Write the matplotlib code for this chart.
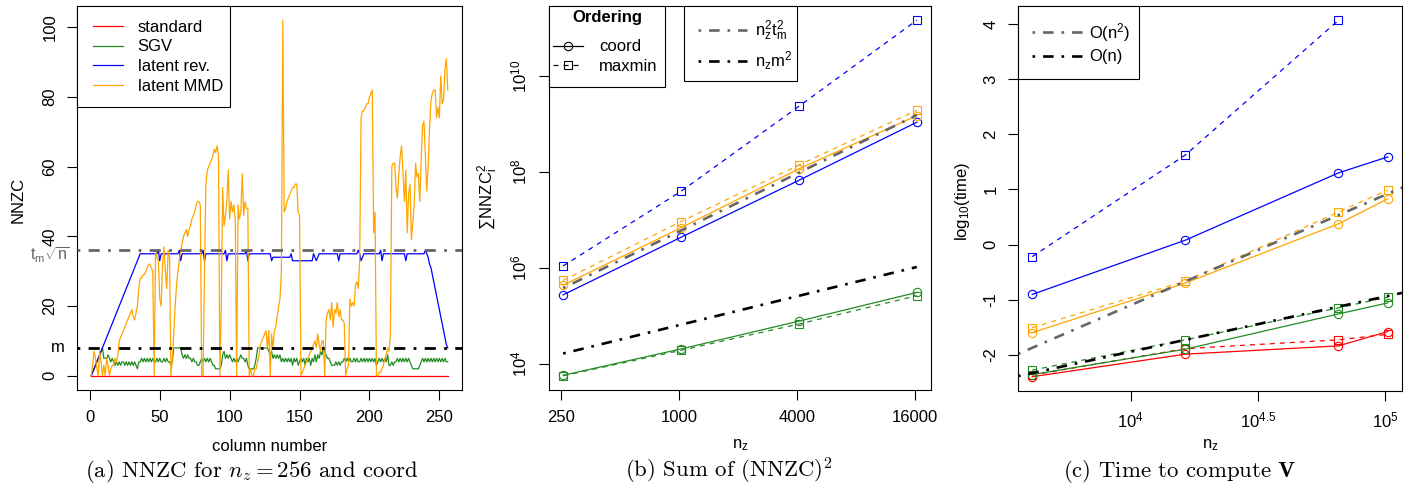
#importing the modules
import numpy as np
import matplotlib
matplotlib.use("Agg")
import matplotlib.pyplot as plt
from matplotlib.lines import Line2D
from matplotlib.patches import Rectangle
from matplotlib.ticker import NullLocator
import matplotlib.transforms as mtransforms

plt.rcParams['font.family'] = ['Liberation Sans', 'DejaVu Sans']
plt.rcParams['mathtext.fontset'] = 'custom'
plt.rcParams['mathtext.rm'] = 'Liberation Sans'
plt.rcParams['mathtext.it'] = 'Liberation Sans'
plt.rcParams['mathtext.bf'] = 'Liberation Sans:bold'
plt.rcParams['axes.unicode_minus'] = False

#---------------- data, panel (a): NNZC per column, n_z = 256, coord ----------------
nnzc_standard = [0] * 256
nnzc_sgv = [
    0, 1, 2, 3, 4, 5, 6, 7, 8, 5, 5, 5, 6, 5, 4, 5,
    4, 3, 4, 3, 4, 3, 4, 4, 3, 4, 3, 4, 3, 4, 3, 4,
    3, 2, 4, 4, 5, 4, 5, 4, 5, 4, 5, 4, 5, 4, 4, 5,
    4, 5, 4, 4, 5, 4, 5, 4, 4, 3, 4, 8, 8, 8, 8, 8,
    8, 6, 5, 6, 5, 6, 5, 5, 4, 5, 4, 4, 3, 3, 4, 5,
    4, 5, 4, 5, 4, 5, 4, 3, 3, 2, 2, 2, 2, 3, 6, 7,
    5, 6, 5, 6, 5, 4, 5, 4, 5, 4, 5, 6, 5, 5, 4, 5,
    3, 2, 2, 2, 2, 3, 5, 8, 8, 8, 8, 8, 8, 8, 8, 7,
    6, 7, 5, 6, 5, 6, 5, 6, 4, 5, 4, 5, 4, 5, 4, 5,
    3, 5, 4, 5, 3, 4, 5, 4, 5, 3, 5, 4, 5, 3, 5, 4,
    6, 4, 6, 5, 7, 6, 8, 7, 6, 5, 5, 4, 3, 3, 3, 4,
    3, 4, 3, 4, 4, 5, 4, 5, 4, 5, 4, 4, 5, 4, 5, 4,
    4, 5, 4, 5, 4, 5, 4, 5, 4, 5, 4, 5, 3, 4, 5, 4,
    5, 4, 5, 4, 6, 3, 3, 4, 3, 4, 4, 5, 4, 5, 4, 5,
    4, 5, 4, 5, 4, 3, 2, 2, 2, 2, 2, 3, 4, 5, 4, 5,
    4, 5, 4, 5, 4, 5, 4, 5, 4, 5, 4, 5, 4, 5, 4, 4]
nnzc_latent_rev = [
    0, 1, 2, 3, 4, 5, 6, 7, 8, 9, 10, 11, 12, 13, 14, 15,
    16, 17, 18, 19, 20, 21, 22, 23, 24, 25, 26, 27, 28, 29, 30, 31,
    32, 33, 34, 35, 35, 35, 35, 35, 35, 35, 35, 35, 35, 35, 35, 35,
    36, 33, 35, 35, 35, 35, 35, 35, 35, 35, 35, 35, 35, 35, 35, 36,
    33, 35, 35, 35, 35, 35, 35, 35, 35, 35, 35, 35, 35, 35, 35, 35,
    36, 33, 35, 35, 35, 35, 35, 35, 35, 35, 35, 35, 35, 35, 35, 35,
    36, 33, 35, 35, 35, 35, 35, 35, 35, 35, 35, 35, 35, 35, 35, 36,
    33, 35, 35, 35, 35, 35, 35, 35, 35, 35, 35, 35, 35, 35, 35, 35,
    35, 33, 34, 34, 34, 34, 34, 34, 34, 34, 34, 34, 34, 34, 34, 35,
    33, 33, 33, 33, 33, 33, 33, 33, 33, 33, 33, 33, 33, 33, 33, 35,
    34, 33, 34, 35, 35, 35, 35, 35, 35, 35, 35, 35, 35, 35, 35, 35,
    35, 33, 35, 35, 35, 35, 35, 35, 35, 35, 35, 35, 35, 35, 35, 36,
    35, 33, 34, 35, 35, 35, 35, 35, 35, 35, 35, 35, 35, 35, 35, 36,
    33, 35, 35, 35, 35, 35, 35, 35, 35, 35, 35, 35, 35, 35, 35, 35,
    35, 33, 35, 35, 35, 35, 35, 35, 35, 35, 35, 35, 35, 35, 35, 36,
    35, 34, 32, 31, 29, 27, 25, 23, 21, 19, 17, 15, 13, 11, 9, 8]
nnzc_latent_mmd = [
    0, 3, 7, 5, 2, 0, 7, 4, 0, 3, 0, 5, 3, 0, 2, 3,
    3, 5, 4, 6, 10, 11, 12, 13, 14, 15, 16, 17, 18, 19, 17, 16,
    18, 20, 25, 28, 28, 29, 29, 30, 31, 32, 32, 31, 30, 0, 36, 34,
    33, 22, 20, 32, 37, 30, 25, 36, 34, 0, 5, 12, 20, 26, 30, 33,
    36, 38, 40, 41, 42, 40, 42, 43, 45, 46, 47, 49, 50, 50, 49, 0,
    0, 30, 55, 59, 60, 61, 62, 63, 65, 64, 66, 63, 0, 20, 54, 43,
    46, 50, 59, 45, 50, 47, 49, 45, 0, 49, 45, 47, 58, 46, 50, 48,
    48, 0, 2, 0, 0, 2, 2, 4, 6, 9, 10, 11, 12, 13, 8, 13,
    0, 12, 8, 13, 14, 17, 20, 22, 30, 102, 47, 48, 50, 51, 52, 53,
    54, 54, 55, 55, 47, 46, 0, 1, 2, 3, 4, 5, 6, 7, 8, 9,
    10, 8, 12, 9, 7, 10, 10, 0, 16, 18, 19, 16, 21, 14, 19, 18,
    21, 17, 19, 16, 16, 15, 0, 2, 3, 22, 20, 21, 20, 26, 27, 25,
    33, 74, 76, 76, 77, 78, 78, 80, 81, 82, 41, 47, 0, 0, 1, 1,
    2, 3, 5, 6, 8, 7, 12, 60, 61, 61, 54, 51, 58, 63, 66, 58,
    50, 59, 41, 52, 55, 39, 44, 49, 61, 57, 58, 50, 62, 72, 73, 63,
    53, 60, 71, 79, 81, 82, 82, 74, 77, 74, 86, 78, 79, 88, 91, 82]
level_tm_sqrt_n = 36
level_m = 8

#---------------- data, panel (b): sum of NNZC^2 ----------------
nz_b = [256, 1024, 4096, 16384]
nz_b_ticks = [250, 1000, 4000, 16000]
sgv_coord_b = [5.75e3, 2.04e4, 7.76e4, 3.09e5]
sgv_maxmin_b = [5.62e3, 1.91e4, 6.76e4, 2.63e5]
rev_coord_b = [2.75e5, 4.37e6, 6.76e7, 1.10e9]
rev_maxmin_b = [1.10e6, 3.98e7, 2.37e9, 1.48e11]
mmd_coord_b = [4.37e5, 6.90e6, 1.17e8, 1.51e9]
mmd_maxmin_b = [5.50e5, 9.30e6, 1.41e8, 1.95e9]
ref_nz2tm2_b = [3.80e5, 6.03e6, 9.77e7, 1.55e9]
ref_nzm2_b = [16384, 65536, 262144, 1048576]

#---------------- data, panel (c): log10 time to compute V ----------------
nz_c = [4096, 16384, 65536, 102400]
std_coord_c = [-2.40, -1.99, -1.84, -1.58]
std_maxmin_c = [-2.37, -1.89, -1.73, -1.63]
sgv_coord_c = [-2.36, -1.90, -1.26, -1.06]
sgv_maxmin_c = [-2.28, -1.73, -1.15, -0.955]
rev_coord_c = [-0.906, 0.079, 1.30, 1.59]
rev_maxmin_c = [-0.22, 1.625, 4.07]
mmd_coord_c = [-1.60, -0.70, 0.375, 0.83]
mmd_maxmin_c = [-1.51, -0.665, 0.59, 0.99]
# reference lines y = slope * log10(nz) + intercept
ref_n2_c = (2.0, -9.10)
ref_n_c = (1.0, -5.945)

RED = '#FF0000'
GREEN = '#228B22'
BLUE = '#0000FF'
ORANGE = '#FFA500'
GRAY = '#666666'
DOTDASH = (0, (1, 3, 4, 3))
DASHED = (0, (4, 4))
FS = 12

W, H = 1417, 490
fig = plt.figure(figsize=(W / 100, H / 100), dpi=100)


def add_ax(l, r, t, b):
    a = fig.add_axes([l / W, 1 - b / H, (r - l) / W, (b - t) / H])
    a._px = (l, r, t, b)
    return a


def ftext(x, y, s, **kw):
    fig.text(x / W, 1 - y / H, s, ha='center', va='center', **kw)


def r_lim(vals, log=False):
    v = np.log10(vals) if log else np.asarray(vals, dtype=float)
    lo, hi = v.min(), v.max()
    pad = 0.04 * (hi - lo)
    lo, hi = lo - pad, hi + pad
    return (10 ** lo, 10 ** hi) if log else (lo, hi)


def style(ax):
    for sp in ax.spines.values():
        sp.set_linewidth(0.8)
        sp.set_color('black')
    ax.tick_params(direction='out', length=7.2, width=0.8, pad=7, labelsize=12)


def rot_y(ax):
    ax.tick_params(axis='y', labelrotation=90)
    for lab in ax.get_yticklabels():
        lab.set_va('center')


def legend_box(ax, handles, labels, l, r, t, b, x0, yc, hlen, tpad, lsp):
    # white framed box drawn at pixel bounds, legend rows centred at yc
    fig.add_artist(Rectangle((l / W, 1 - b / H), (r - l) / W, (b - t) / H,
                             transform=fig.transFigure, fc='white', ec='black',
                             lw=0.8, zorder=8))
    al, ar, at, ab = ax._px
    leg = ax.legend(handles, labels, loc='center left',
                    bbox_to_anchor=((x0 - al) / (ar - al), (ab - yc) / (ab - at)),
                    frameon=False, borderpad=0, borderaxespad=0, fontsize=FS,
                    handlelength=hlen, handletextpad=tpad, labelspacing=lsp)
    leg.set_zorder(9)
    leg.remove()
    fig.add_artist(leg)
    return leg


#---------------- panel (a) ----------------
ax = add_ax(77, 462, 6, 390)
style(ax)
cols = np.arange(1, len(nnzc_sgv) + 1)
la = []
la += ax.plot(cols, nnzc_standard, color=RED, lw=0.9, zorder=2)
la += ax.plot(cols, nnzc_sgv, color=GREEN, lw=0.9, zorder=3)
la += ax.plot(cols, nnzc_latent_rev, color=BLUE, lw=0.9, zorder=4)
la += ax.plot(cols, nnzc_latent_mmd, color=ORANGE, lw=0.9, zorder=5)
ax.axhline(level_tm_sqrt_n, color=GRAY, lw=2.0, ls=DOTDASH, zorder=6)
ax.axhline(level_m, color='black', lw=2.0, ls=DOTDASH, zorder=6)
allv = nnzc_sgv + nnzc_latent_rev + nnzc_latent_mmd + nnzc_standard
ax.set_xlim(*r_lim(cols))
ax.set_ylim(*r_lim(allv))
ax.set_xticks([0, 50, 100, 150, 200, 250])
ax.set_yticks([0, 20, 40, 60, 80, 100])
rot_y(ax)
tr = mtransforms.blended_transform_factory(ax.transAxes, ax.transData)
ax.text(-0.018, level_tm_sqrt_n - 1.4, r'$\mathrm{t_m}\sqrt{\mathrm{n}}$', transform=tr,
        ha='right', va='center', color=GRAY, fontsize=11.5)
ax.text(-0.031, level_m, 'm', transform=tr, ha='right', va='center', fontsize=12)
legend_box(ax, la, ['standard', 'SGV', 'latent rev.', 'latent MMD'],
           77, 230, 6, 107, 92.7, 56.7, 1.8, 0.9, 0.28)
ftext(270, 446, 'column number', fontsize=12)
ftext(18.5, 200, 'NNZC', fontsize=12, rotation=90)
ftext(252, 471, r'(a) NNZC for $n_z = 256$ and coord', fontsize=16.4,
      family='cmr10', math_fontfamily='cm')

#---------------- panel (b) ----------------
ax = add_ax(549, 931, 6, 390)
style(ax)
ax.set_xscale('log')
ax.set_yscale('log')
mk = dict(ms=6, mfc='none', mew=0.8)
for c, yc, ym in [(BLUE, rev_coord_b, rev_maxmin_b),
                  (ORANGE, mmd_coord_b, mmd_maxmin_b),
                  (GREEN, sgv_coord_b, sgv_maxmin_b)]:
    ax.plot(nz_b, yc, color=c, lw=0.9, marker='o', mec=c, **mk)
    ax.plot(nz_b, ym, color=c, lw=0.9, ls=DASHED, marker='s', mec=c, **mk)
ax.plot(nz_b, ref_nz2tm2_b, color=GRAY, lw=1.9, ls=DOTDASH)
ax.plot(nz_b, ref_nzm2_b, color='black', lw=1.9, ls=DOTDASH)
ax.set_xlim(*r_lim(nz_b, log=True))
ax.set_ylim(*r_lim(sgv_coord_b + sgv_maxmin_b + rev_coord_b + rev_maxmin_b
                   + mmd_coord_b + mmd_maxmin_b, log=True))
ax.xaxis.set_minor_locator(NullLocator())
ax.yaxis.set_minor_locator(NullLocator())
ax.set_xticks(nz_b_ticks, [str(v) for v in nz_b_ticks])
ax.set_yticks([1e4, 1e6, 1e8, 1e10], [r'$10^{4}$', r'$10^{6}$', r'$10^{8}$', r'$10^{10}$'])
rot_y(ax)
h1 = [Line2D([], [], color='black', lw=0.9, marker='o', **dict(mk, mec='black')),
      Line2D([], [], color='black', lw=0.9, ls=DASHED, marker='s', **dict(mk, mec='black'))]
legend_box(ax, h1, ['coord', 'maxmin'], 549, 665, 6, 87, 553, 56.7, 1.8, 0.96, 0.28)
ftext(607, 17.5, 'Ordering', fontsize=FS, fontweight='bold', zorder=10)
h2 = [Line2D([], [], color=GRAY, lw=1.9, ls=DOTDASH),
      Line2D([], [], color='black', lw=1.9, ls=DOTDASH)]
legend_box(ax, h2, [r'n$_z^2$t$_m^2$', r'n$_z$m$^2$'], 684, 797, 6, 81, 698, 45,
           2.93, 0.48, 0.4)
ftext(740, 445, r'n$_z$', fontsize=12)
ftext(488, 197, r'$\sum$NNZC$_i^2$', fontsize=12, rotation=90)
ftext(729, 471, r'(b) Sum of (NNZC)$^2$', fontsize=16.4, family='cmr10',
      math_fontfamily='cm')

#---------------- panel (c) ----------------
ax = add_ax(1018, 1402, 6, 391)
style(ax)
lx = np.log10(nz_c)
for c, yc, ym in [(RED, std_coord_c, std_maxmin_c),
                  (GREEN, sgv_coord_c, sgv_maxmin_c),
                  (BLUE, rev_coord_c, rev_maxmin_c),
                  (ORANGE, mmd_coord_c, mmd_maxmin_c)]:
    ax.plot(lx[:len(yc)], yc, color=c, lw=0.9, marker='o', mec=c, **mk)
    ax.plot(lx[:len(ym)], ym, color=c, lw=0.9, ls=DASHED, marker='s', mec=c, **mk)
ax.set_xlim(*r_lim(lx))
ax.set_ylim(*r_lim(std_coord_c + std_maxmin_c + sgv_coord_c + sgv_maxmin_c
                   + rev_coord_c + rev_maxmin_c + mmd_coord_c + mmd_maxmin_c))
ax.axline((0, ref_n2_c[1]), slope=ref_n2_c[0], color=GRAY, lw=1.9, ls=DOTDASH)
ax.axline((0, ref_n_c[1]), slope=ref_n_c[0], color='black', lw=1.9, ls=DOTDASH)
ax.set_xticks([4, 4.5, 5], [r'$10^{4}$', r'$10^{4.5}$', r'$10^{5}$'])
ax.set_yticks([-2, -1, 0, 1, 2, 3, 4])
rot_y(ax)
legend_box(ax, h2, [r'O(n$^2$)', 'O(n)'], 1018, 1139, 6, 79, 1031.7, 42.5,
           3.0, 0.44, 0.35)
ftext(1210, 445, r'n$_z$', fontsize=12)
ftext(962, 201, r'log$_{10}$(time)', fontsize=12, rotation=90)
ftext(1180, 471, r'(c) Time to compute $\mathbf{V}$', fontsize=16.4,
      family='cmr10', math_fontfamily='cm')

fig.savefig('out.png', dpi=100)
